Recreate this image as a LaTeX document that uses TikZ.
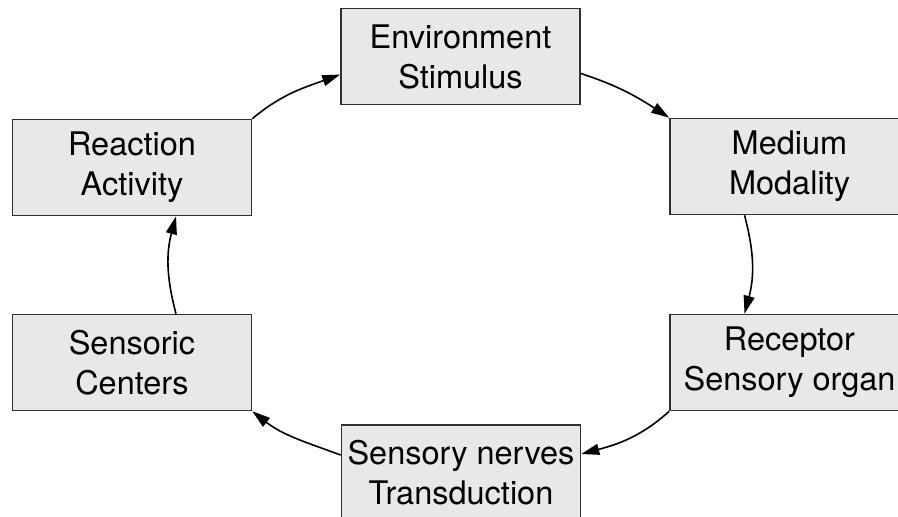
\documentclass[tikz,border=0pt]{standalone}
\usepackage{fontspec}
\setmainfont{TeX Gyre Heros}
\usetikzlibrary{arrows.meta}

\definecolor{boxfill}{HTML}{E8E8E8}
\definecolor{boxline}{HTML}{303030}

\tikzset{
  stagebox/.style={draw=boxline, line width=1.6pt, fill=boxfill, rectangle,
    minimum width=239pt, minimum height=96pt, inner sep=0pt, align=center,
    font=\fontsize{32.5}{40}\selectfont},
  flow/.style={-{Triangle[length=18pt,width=11pt]}, line width=1.6pt, black}
}

\begin{document}
\begin{tikzpicture}[x=1pt, y=1pt]
\useasboundingbox (0,0) rectangle (898,-517);

\draw (460.5,-56.5) node[stagebox] (env) {Environment\\Stimulus};
\draw (789.5,-166.5) node[stagebox] (med) {Medium\\Modality};
\draw (789.5,-362.5) node[stagebox] (rec) {Receptor\\Sensory organ};
\draw (461,-473) node[stagebox] (nerv) {Sensory nerves\\Transduction};
\draw (132,-362.5) node[stagebox] (sens) {Sensoric\\Centers};
\draw (132,-167.5) node[stagebox] (react) {Reaction\\Activity};

\draw [flow] (react.north east) to[out=40, in=200] ([yshift=-18pt]env.west);
\draw [flow] ([yshift=-17pt]env.east) to[out=-18, in=147] (med.north west);
\draw [flow] ([xshift=-45pt]med.south) to[out=-75, in=75] ([xshift=-45pt]rec.north);
\draw [flow] (rec.south west) to[out=222, in=15] ([yshift=19pt]nerv.east);
\draw [flow] ([yshift=18pt]nerv.west) to[out=160, in=-38] (sens.south east);
\draw [flow] ([xshift=44pt]sens.north) to[out=105, in=-105] ([xshift=44pt]react.south);

\end{tikzpicture}
\end{document}
